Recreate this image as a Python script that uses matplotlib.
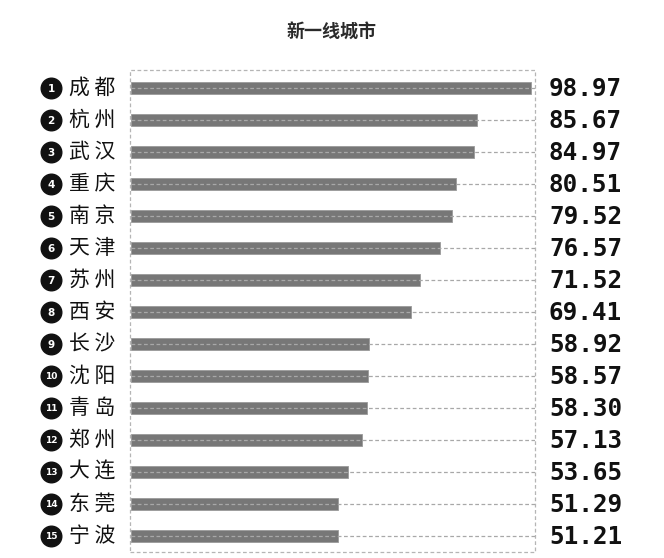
import numpy as np
import matplotlib
matplotlib.use("Agg")
import matplotlib.pyplot as plt
from matplotlib.patches import Rectangle
from matplotlib.transforms import blended_transform_factory

plt.rcParams['font.family'] = ['Noto Sans CJK SC', 'DejaVu Sans']

# Data
cities = ["成都", "杭州", "武汉", "重庆", "南京", "天津", "苏州", "西安",
          "长沙", "沈阳", "青岛", "郑州", "大连", "东莞", "宁波"]
scores = [98.97, 85.67, 84.97, 80.51, 79.52, 76.57, 71.52, 69.41,
          58.92, 58.57, 58.30, 57.13, 53.65, 51.29, 51.21]
value_labels = ["98.97", "85.67", "84.97", "80.51", "79.52", "76.57", "71.52", "69.41",
                "58.92", "58.57", "58.30", "57.13", "53.65", "51.29", "51.21"]
title = "新一线城市"

W, H = 664, 558
fig = plt.figure(figsize=(W / 100, H / 100), dpi=100)
fig.patch.set_facecolor("white")

# axes box = dashed frame (130..535 px, 70..552 px)
ax = fig.add_axes([130 / W, 1 - 552 / H, 405 / W, 482 / H])
ax.set_xlim(-0.25, 100)
ax.set_ylim(14.5, -0.56)
ax.axis("off")

y = np.arange(len(cities))

# dashed guide lines through each row
for yi in y:
    ax.plot([0, 100], [yi, yi], color="#a8a8a8", lw=0.9, ls=(0, (3, 2)), zorder=3)

ax.barh(y, scores, height=0.36, color="#777777", edgecolor="#9a9a9a",
        linewidth=0.6, zorder=2)

# dashed frame
ax.add_patch(Rectangle((0, 0), 1, 1, transform=ax.transAxes, fill=False,
                       edgecolor="#b5b5b5", lw=0.9, ls=(0, (3, 2)),
                       clip_on=False, zorder=1))

trans = blended_transform_factory(fig.transFigure, ax.transData)

# rank circles
ax.scatter(np.full(len(y), 51 / W), y, s=220, color="#111111",
           transform=trans, clip_on=False, zorder=5)
for i, yi in enumerate(y):
    n = str(i + 1)
    ax.text(51 / W, yi + 0.02, n, transform=trans, color="white",
            fontsize=7.5 if len(n) == 1 else 6.5, fontweight="bold",
            ha="center", va="center", family="DejaVu Sans", zorder=6)
    ax.text(69 / W, yi, cities[i][0] + " " + cities[i][1], transform=trans,
            fontsize=15, fontweight="medium", color="#111111",
            ha="left", va="center")
    ax.text(549 / W, yi + 0.03, value_labels[i], transform=trans,
            fontsize=17.5, fontweight="bold", color="#111111",
            ha="left", va="center", family="DejaVu Sans Mono")

fig.text(0.5, 1 - 32 / H, title, ha="center", va="center",
         fontsize=13, color="#2a2a2a", fontweight="bold")

fig.savefig("out.png", dpi=100, facecolor="white")
